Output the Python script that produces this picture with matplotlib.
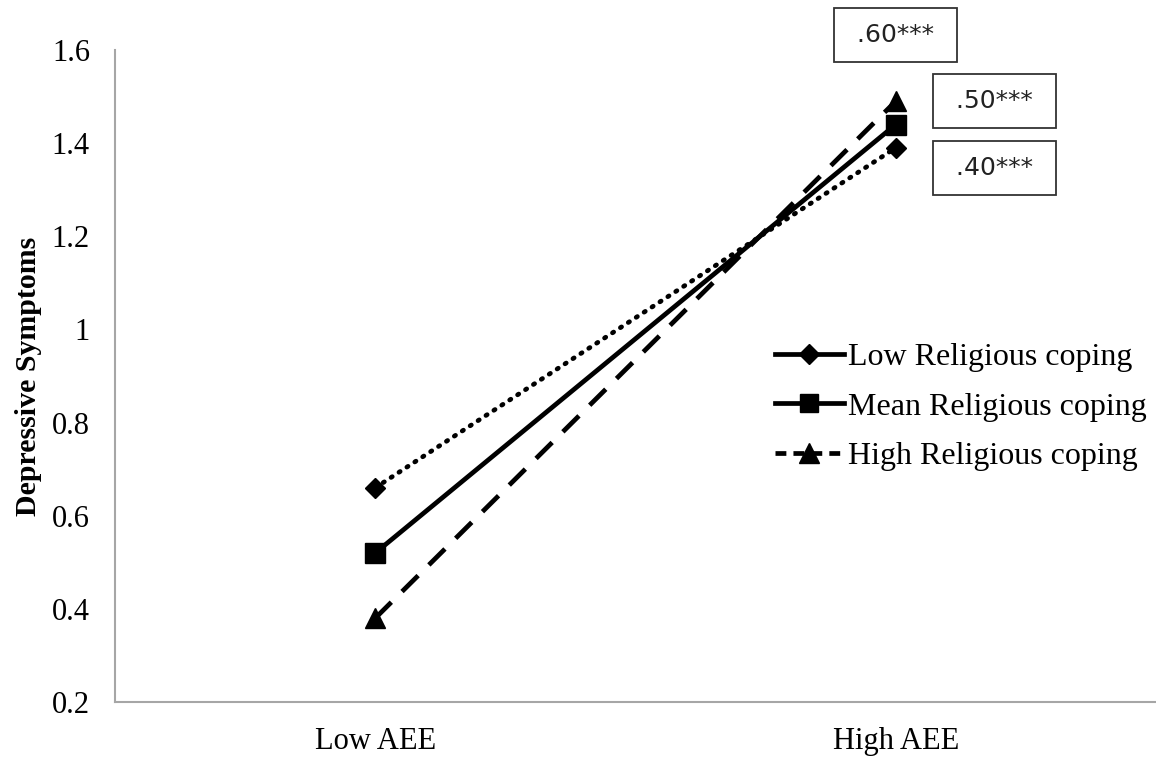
import numpy as np
import matplotlib.pyplot as plt
from matplotlib.lines import Line2D

# AEE levels on the x axis
groups = ['Low AEE', 'High AEE']

# predicted depressive symptoms per religious coping level
low_coping = [0.66, 1.39]
mean_coping = [0.52, 1.44]
high_coping = [0.38, 1.49]

series_names = ['Low Religious coping', 'Mean Religious coping', 'High Religious coping']
slopes = ['.40***', '.50***', '.60***']

plt.rcParams['font.family'] = ['Liberation Serif', 'DejaVu Serif']

fig = plt.figure(figsize=(11.56, 7.6), dpi=100)
ax = fig.add_axes([115 / 1156, 58 / 760, 1041 / 1156, 652 / 760])

x = np.arange(len(groups))
ax.plot(x, low_coping, color='black', lw=3.4, linestyle=(0, (0.3, 1.7)),
        dash_capstyle='round', marker='D', ms=10)
ax.plot(x, mean_coping, color='black', lw=3.4, marker='s', ms=14)
ax.plot(x, high_coping, color='black', lw=3.4, linestyle=(0, (4.8, 3.2)),
        marker='^', ms=15)

# slope boxes
box = dict(boxstyle='square,pad=0.6', fc='white', ec='#333333', lw=1.3)
for sx, sy, lab in [(1.19, 1.347, slopes[0]), (1.19, 1.490, slopes[1]), (1.0, 1.632, slopes[2])]:
    ax.text(sx, sy, ' ' + lab + ' ', ha='center', va='center', fontsize=18,
            family='DejaVu Sans', color='#222222', bbox=box, clip_on=False)

handles = [
    Line2D([], [], color='black', lw=3.4, marker='D', ms=10),
    Line2D([], [], color='black', lw=3.4, marker='s', ms=13),
    Line2D([], [], color='black', lw=3.4, linestyle=(0, (2.3, 1.5)), marker='^', ms=14),
]
ax.legend(handles, series_names, loc='upper left', bbox_to_anchor=(0.634, 0.551),
          frameon=False, fontsize=23, handlelength=2.15, handletextpad=0.15,
          labelspacing=0.63, borderpad=0, borderaxespad=0)

ax.set_xlim(-0.5, 1.5)
ax.set_ylim(0.2, 1.6)
ax.set_xticks(x)
ax.set_xticklabels(groups)
ax.set_yticks(np.arange(0.2, 1.61, 0.2))
ax.set_yticklabels(['0.2', '0.4', '0.6', '0.8', '1', '1.2', '1.4', '1.6'])
ax.tick_params(length=0, labelsize=22, pad=14)
ax.tick_params(axis='y', pad=18)
ax.tick_params(axis='x', pad=18)
ax.set_ylabel('Depressive Symptoms', fontsize=21.5, fontweight='bold', labelpad=7)

for side in ['top', 'right']:
    ax.spines[side].set_visible(False)
for side in ['left', 'bottom']:
    ax.spines[side].set_color('#a6a6a6')
    ax.spines[side].set_linewidth(1.5)

fig.savefig('out.png', dpi=100)
